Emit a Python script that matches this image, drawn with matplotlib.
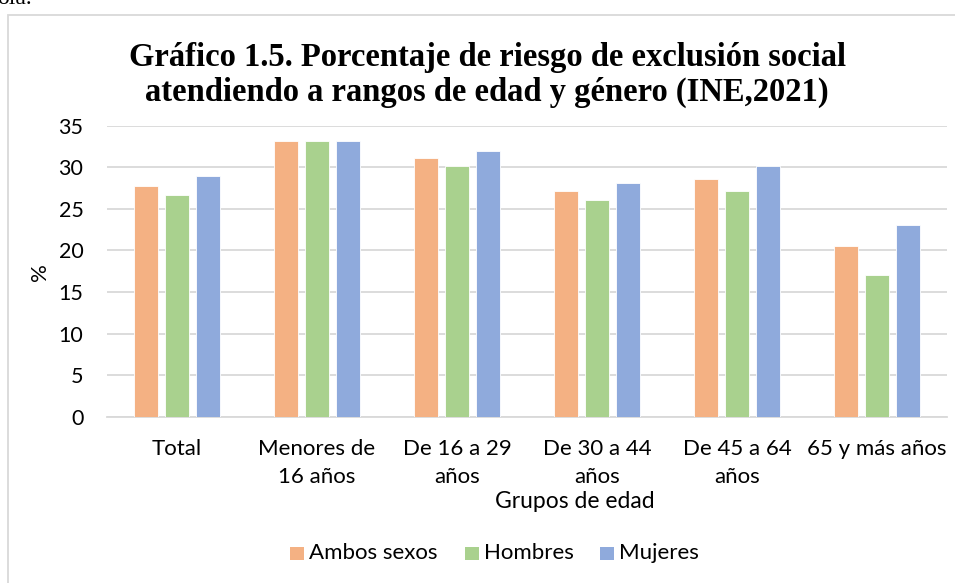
import matplotlib
matplotlib.use("Agg")
import matplotlib.pyplot as plt
import numpy as np
from matplotlib.patches import Rectangle

categories = ["Total", "Menores de\n16 años", "De 16 a 29\naños", "De 30 a 44\naños",
              "De 45 a 64\naños", "65 y más años"]
series_names = ["Ambos sexos", "Hombres", "Mujeres"]
ambos = [27.8, 33.2, 31.1, 27.1, 28.6, 20.5]
hombres = [26.7, 33.1, 30.1, 26.1, 27.2, 17.1]
mujeres = [28.9, 33.2, 32.0, 28.1, 30.2, 23.1]
yticks = [0, 5, 10, 15, 20, 25, 30, 35]
colors = ["#F4B183", "#A9D18E", "#8FAADC"]
title_lines = ["Gráfico 1.5. Porcentaje de riesgo de exclusión social",
               "atendiendo a rangos de edad y género (INE,2021)"]

W, H = 955, 583
FONT = "Lato"
FS = 16

fig = plt.figure(figsize=(W / 100, H / 100), dpi=100)
fig.patch.set_facecolor("white")

def fx(px):
    return px / W

def fy(py):
    return 1 - py / H

# surrounding frame (chart box in document)
fig.patches.append(Rectangle((fx(7.5), -0.1), 1.2, fy(15.5) + 0.1, transform=fig.transFigure,
                             fill=False, edgecolor="#d9d9d9", linewidth=1.3, zorder=0))
# document text fragment at top
fig.text(fx(-3), fy(4), "ola.", fontsize=17, family="Liberation Serif", va="baseline", ha="left")

ax = fig.add_axes([fx(107), fy(416.7), (947 - 107) / W, (416.7 - 125.7) / H])
x = np.arange(len(categories))
bw = 0.172
step = 0.222
for i, (vals, name) in enumerate(zip([ambos, hombres, mujeres], series_names)):
    ax.bar(x + (i - 1) * step, vals, width=bw, color=colors[i], label=name,
           edgecolor="white", linewidth=0.6, zorder=3)

ax.set_xlim(-0.5, len(categories) - 0.5)
ax.set_ylim(0, 35)
ax.set_yticks(yticks)
ax.set_yticklabels([str(t) for t in yticks], fontsize=15.5, family=FONT)
ax.set_xticks(x)
ax.set_xticklabels(categories, fontsize=FS, family=FONT, linespacing=1.5)
ax.tick_params(length=0, pad=16, axis="x")
ax.tick_params(length=0, pad=17, axis="y")
ax.grid(axis="y", color="#d9d9d9", linewidth=1.3, zorder=0)
for s in ["top", "right", "left"]:
    ax.spines[s].set_visible(False)
ax.spines["bottom"].set_color("#d9d9d9")
ax.spines["bottom"].set_linewidth(1.3)

fig.text(fx(40), fy(272), "%", rotation=90, fontsize=FS, family=FONT, ha="center", va="center")
fig.text(fx(575), fy(502), "Grupos de edad", fontsize=16.5, family=FONT, ha="center", va="center")

fig.text(fx(487), fy(66), title_lines[0], fontsize=23.5, family="Liberation Serif",
         weight="bold", ha="center", va="baseline")
fig.text(fx(487), fy(101), title_lines[1], fontsize=23.5, family="Liberation Serif",
         weight="bold", ha="center", va="baseline")

# legend (manual, Excel-style), items placed one after another
fig.canvas.draw()
renderer = fig.canvas.get_renderer()
cur = 290.0
for name, c in zip(series_names, colors):
    fig.patches.append(Rectangle((fx(cur), fy(560)), 14 / W, 13 / H, transform=fig.transFigure,
                                 facecolor=c, edgecolor="none"))
    t = fig.text(fx(cur + 19), fy(553), name, fontsize=FS, family=FONT, ha="left", va="center")
    wpx = t.get_window_extent(renderer).width
    cur = cur + 19 + wpx + 27

fig.savefig("out.png", dpi=100)
